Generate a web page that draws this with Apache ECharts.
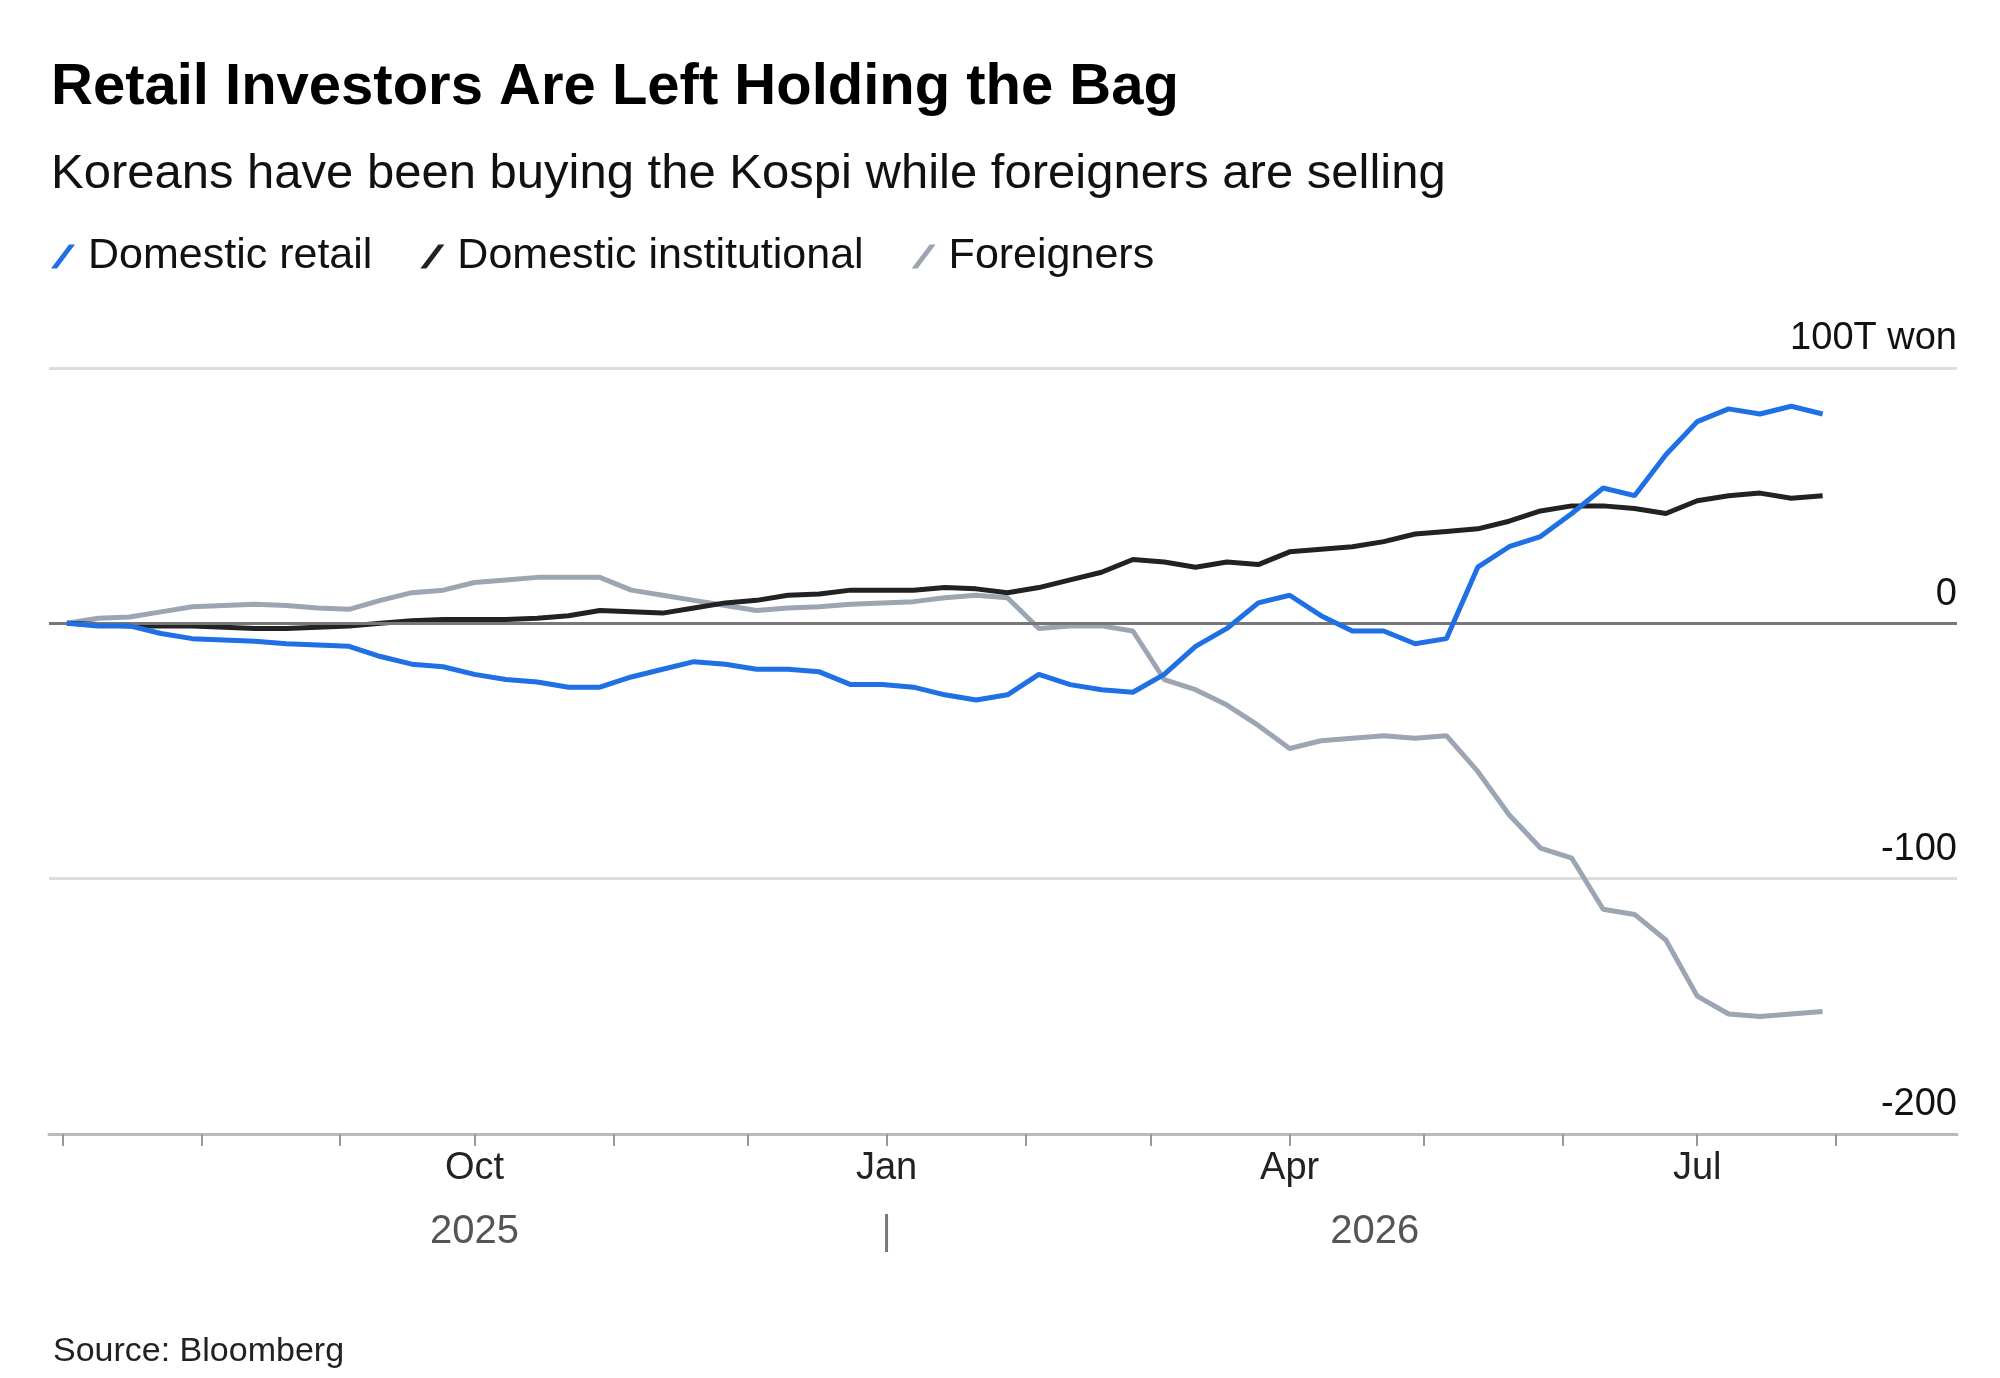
<!DOCTYPE html>
<html><head><meta charset="utf-8">
<script src="https://cdn.jsdelivr.net/npm/echarts@6/dist/echarts.min.js"></script>
<style>html,body{margin:0;padding:0;background:#fff}#c{width:2000px;height:1378px}</style>
</head><body><div id="c"></div>
<script>
const startDate = '2025-07-02';
const stepDays = 7;
const retail = [0,-1,-1,-4,-6,-6.5,-7,-8,-8.5,-9,-13,-16,-17,-20,-22,-23,-25,-25,-21,-18,-15,-16,-18,-18,-19,-24,-24,-25,-28,-30,-28,-20,-24,-26,-27,-20,-9,-2,8,11,3,-3,-3,-8,-6,22,30,34,43,53,50,66,79,84,82,85,82];
const institutional = [0,-0.5,-1,-1,-1,-1.5,-2,-2,-1.5,-1,0,1,1.5,1.5,1.5,2,3,5,4.5,4,6,8,9,11,11.5,13,13,13,14,13.5,12,14,17,20,25,24,22,24,23,28,29,30,32,35,36,37,40,44,46,46,45,43,48,50,51,49,50];
const foreigners = [0,2,2.5,4.5,6.5,7,7.5,7,6,5.5,9,12,13,16,17,18,18,18,13,11,9,7,5,6,6.5,7.5,8,8.5,10,11,10,-2,-1,-1,-3,-22,-26,-32,-40,-49,-46,-45,-44,-45,-44,-58,-75,-88,-92,-112,-114,-124,-146,-153,-154,-153,-152];
const yTicks = [-200,-100,0,100];
const monthLabels = {'2025-10':'Oct','2026-01':'Jan','2026-04':'Apr','2026-07':'Jul'};
const years = [['2025','2025-10-01'],['2026','2026-04-20']];

const DAY = 86400000;
const t0 = new Date(startDate+'T00:00:00Z').getTime();
const dates = retail.map((_,i)=>t0+i*stepDays*DAY);
const pair = arr => arr.map((v,i)=>[dates[i],v]);
const font = 'Liberation Sans, Arial, sans-serif';
const legendIcon = 'path://M0,20 L5,20 L20,0 L15,0 Z';

const chart = echarts.init(document.getElementById('c'));
chart.setOption({
  animation:false,
  textStyle:{fontFamily:font},
  title:[
    {text:'Retail Investors Are Left Holding the Bag',left:46,top:54,textStyle:{fontSize:58,fontWeight:'bold',color:'#000',fontFamily:font}},
    {text:'Koreans have been buying the Kospi while foreigners are selling',left:46,top:145,textStyle:{fontSize:49,fontWeight:'normal',color:'#111',fontFamily:font}},
    {text:'Source: Bloomberg',left:48,top:1330,textStyle:{fontSize:34,fontWeight:'normal',color:'#222',fontFamily:font}}
  ],
  legend:{left:46,top:230,itemWidth:24,itemHeight:28,itemGap:48,icon:legendIcon,
    textStyle:{fontSize:43,color:'#111',padding:[0,0,0,8]},
    data:['Domestic retail','Domestic institutional','Foreigners']},
  grid:{left:49,right:43,top:368,bottom:244},
  xAxis:{type:'time',min:'2025-06-28',max:'2026-08-28',splitNumber:14,
    minInterval:28*DAY,maxInterval:31*DAY,
    axisLine:{onZero:false,lineStyle:{color:'#bbb',width:3}},
    axisTick:{show:true,length:12,lineStyle:{color:'#999',width:2}},
    splitLine:{show:false},
    axisLabel:{fontSize:38,color:'#222',margin:16,hideOverlap:false,
      formatter:v=>{const d=new Date(v);const k=d.getUTCFullYear()+'-'+String(d.getUTCMonth()+1).padStart(2,'0');return d.getUTCDate()===1&&monthLabels[k]?monthLabels[k]:'';}}},
  yAxis:{type:'value',min:-200,max:100,interval:100,position:'right',
    axisLine:{show:false},axisTick:{show:false},
    splitLine:{lineStyle:{color:'#ddd',width:3}},
    axisLabel:{inside:true,verticalAlign:'bottom',margin:0,padding:[0,0,10,0],fontSize:38,color:'#111',
      formatter:v=>v===100?'100T won':String(v)}},
  series:[
    {name:'Domestic retail',type:'line',data:pair(retail),showSymbol:false,lineStyle:{color:'#1f6fe5',width:5},itemStyle:{color:'#1f6fe5'},z:5},
    {name:'Domestic institutional',type:'line',data:pair(institutional),showSymbol:false,lineStyle:{color:'#222',width:5},itemStyle:{color:'#222'},z:4,
      markLine:{silent:true,symbol:'none',label:{show:false},lineStyle:{color:'#777',width:3,type:'solid'},data:[{yAxis:0}]}},
    {name:'Foreigners',type:'line',data:pair(foreigners),showSymbol:false,lineStyle:{color:'#9ca6b2',width:5},itemStyle:{color:'#9ca6b2'},z:3}
  ]
});
const yPix = chart.convertToPixel({gridIndex:0},[new Date('2026-01-01').getTime(),-200])[1];
const g = years.map(([t,d])=>({type:'text',x:chart.convertToPixel({gridIndex:0},[new Date(d).getTime(),0])[0],y:yPix+78,
  style:{text:t,fontSize:40,fill:'#555',align:'center',fontFamily:font}}));
const jx = chart.convertToPixel({gridIndex:0},[new Date('2026-01-01').getTime(),0])[0];
g.push({type:'line',shape:{x1:jx,y1:yPix+80,x2:jx,y2:yPix+118},style:{stroke:'#777',lineWidth:3}});
chart.setOption({graphic:g});
</script></body></html>
